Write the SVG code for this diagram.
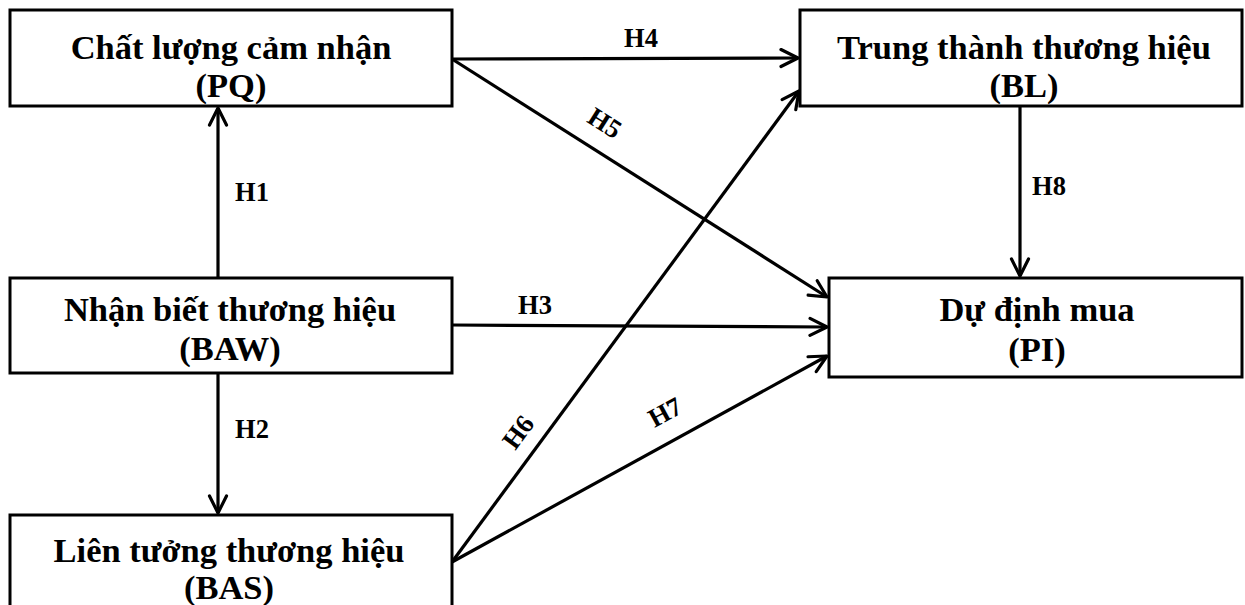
<svg xmlns="http://www.w3.org/2000/svg" width="1245" height="605" viewBox="0 0 1245 605">
<style>
.box{fill:#fff;stroke:#000;stroke-width:3}
.t{font-family:"Liberation Serif","Times New Roman",serif;font-weight:bold;font-size:34.5px;text-anchor:middle;fill:#000}
.l{font-family:"Liberation Serif","Times New Roman",serif;font-weight:bold;font-size:26.5px;text-anchor:middle;fill:#000}
.c{stroke:#000;stroke-width:3.2;fill:none;marker-end:url(#arr)}
</style>
<defs>
<marker id="arr" viewBox="0 0 22 22" refX="20" refY="11" markerWidth="22" markerHeight="22" markerUnits="userSpaceOnUse" orient="auto">
<path d="M3,2.5 L20,11 L3,19.5" fill="none" stroke="#000" stroke-width="3.2" stroke-linecap="round" stroke-linejoin="round"/>
</marker>
</defs>
<rect width="1245" height="605" fill="#fff"/>
<g id="connectors">
<line class="c" x1="218" y1="278" x2="218" y2="108"/>
<line class="c" x1="218" y1="373" x2="218" y2="513"/>
<line class="c" x1="452" y1="325" x2="827" y2="327"/>
<line class="c" x1="452" y1="59" x2="798" y2="58"/>
<line class="c" x1="452" y1="59" x2="827" y2="297"/>
<line class="c" x1="452" y1="562" x2="799" y2="91"/>
<line class="c" x1="452" y1="562" x2="827" y2="356"/>
<line class="c" x1="1020" y1="106" x2="1020" y2="276"/>
<text class="l" x="252" y="201">H1</text>
<text class="l" x="252" y="438">H2</text>
<text class="l" x="535" y="314">H3</text>
<text class="l" x="641" y="47">H4</text>
<text class="l" transform="translate(605,123) rotate(32.3)" x="0" y="9">H5</text>
<text class="l" transform="translate(518,432) rotate(-53.6)" x="0" y="9">H6</text>
<text class="l" transform="translate(665,412) rotate(-28.6)" x="0" y="9">H7</text>
<text class="l" x="1049" y="195">H8</text>
</g>
<g id="PQ">
<rect class="box" x="10" y="10" width="442" height="96"/>
<text class="t"><tspan x="231" y="59">Chất lượng cảm nhận</tspan><tspan x="231" y="97">(PQ)</tspan></text>
</g>
<g id="BL">
<rect class="box" x="800" y="10" width="442" height="96"/>
<text class="t"><tspan x="1024" y="59">Trung thành thương hiệu</tspan><tspan x="1024" y="97">(BL)</tspan></text>
</g>
<g id="BAW">
<rect class="box" x="10" y="278" width="442" height="95"/>
<text class="t"><tspan x="230" y="321">Nhận biết thương hiệu</tspan><tspan x="230" y="360">(BAW)</tspan></text>
</g>
<g id="PI">
<rect class="box" x="829" y="278" width="413" height="99"/>
<text class="t"><tspan x="1037" y="321">Dự định mua</tspan><tspan x="1037" y="361">(PI)</tspan></text>
</g>
<g id="BAS">
<rect class="box" x="10" y="515" width="442" height="100"/>
<text class="t"><tspan x="229" y="562">Liên tưởng thương hiệu</tspan><tspan x="229" y="599">(BAS)</tspan></text>
</g>
</svg>
